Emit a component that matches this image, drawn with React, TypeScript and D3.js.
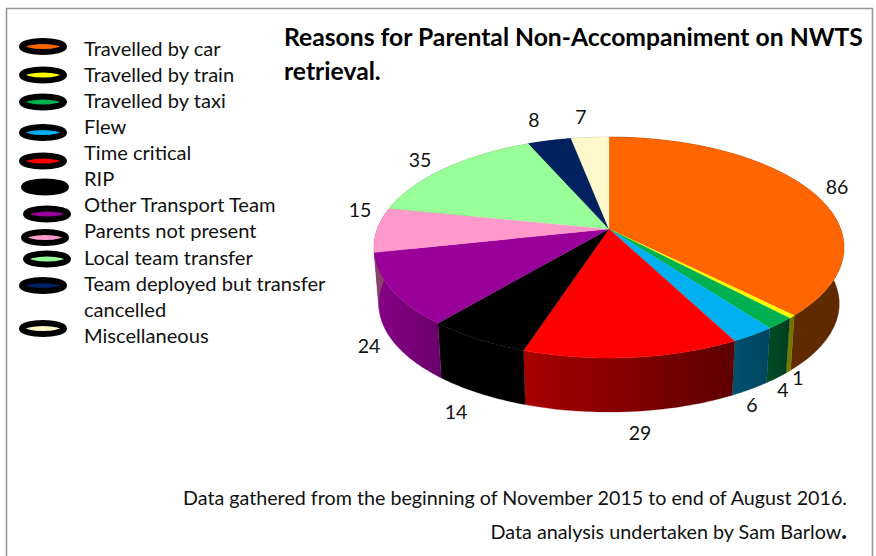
import React from "react";
import * as d3 from "d3";

const categories = ["Travelled by car","Travelled by train","Travelled by taxi","Flew","Time critical","RIP","Other Transport Team","Parents not present","Local team transfer","Team deployed but transfer cancelled","Miscellaneous"];
const values = [86,1,4,6,29,14,24,15,35,8,7];
const topColors = ["#ff6600","#ffff00","#00b050","#00b0f0","#ff0000","#000000","#990099","#ff99cc","#99ff99","#002060","#fff8cc"];
const wallLight = ["#6a2e00","#7a7a00","#004a24","#004f6c","#a80000","#000000","#880088","#884466","#558855","#001030","#888866"];
const wallDark = ["#602a00","#6a6a00","#003e1e","#004560","#5c0000","#000000","#6c006c","#884466","#558855","#001030","#888866"];

// Legend layout: swatch centre and text baseline lines
const swatchX = [43,43,43,43,43,45,47,45,47,43,43];
const swatchY = [46.5,75,102,132.5,161,187,214,237.5,259,285.5,328.5];
const legendLines = ["Travelled by car","Travelled by train","Travelled by taxi","Flew","Time critical","RIP","Other Transport Team","Parents not present","Local team transfer","Team deployed but transfer","cancelled","Miscellaneous"];
const legendBaselines = [56,82,108,134,160,186,212,238,265,291,317,343];

const labelX = [837,798,783,752,640,456,369,360,420,534,581];
const labelY = [194,385,397,412,440,419,353,217,167,127,124];

const cx = 609, cy = 229, R = 231.7, B = 107.4, persp = 0.1675;
const depth = 56.6, bottomScale = 0.98;

function project(theta: number, bottom: boolean): [number, number] {
  const u = Math.sin(theta), v = -Math.cos(theta);
  const s = 1 / (1 - persp * v);
  const k = bottom ? bottomScale : 1;
  return [cx + R * u * s * k, cy + B * v * s * k + (bottom ? depth : 0)];
}

const line = d3.line();

export default function App() {
  const arcs = d3.pie<number>().sort(null).startAngle(0).endAngle(2 * Math.PI)(values);
  const samples = (a: d3.PieArcDatum<number>) => d3.range(0, 41).map(i => a.startAngle + (a.endAngle - a.startAngle) * i / 40);
  const xOf = (a: d3.PieArcDatum<number>, e: number) => project(e, false)[0];

  return (
    <svg width={876} height={556} style={{ position: "absolute", left: 0, top: 0, background: "#fff" }}
      fontFamily="Lato, Carlito, sans-serif">
      <defs>
        {arcs.map((a, i) => (
          <linearGradient key={i} id={`wall${i}`} gradientUnits="userSpaceOnUse"
            x1={Math.min(xOf(a, a.startAngle), xOf(a, a.endAngle))} y1={0}
            x2={Math.max(xOf(a, a.startAngle), xOf(a, a.endAngle))} y2={0}>
            <stop offset="0" stopColor={wallLight[i]} />
            <stop offset="1" stopColor={wallDark[i]} />
          </linearGradient>
        ))}
        <filter id="soft" x="-10%" y="-30%" width="120%" height="160%"><feGaussianBlur stdDeviation="0.5" /></filter>
      </defs>

      <path d="M6.5 556V8.5H872.5V556" fill="none" stroke="#989898" strokeWidth={1.6} />

      {arcs.map((a, i) => {
        const ts = samples(a);
        const pts = [...ts.map(t => project(t, false)), ...ts.slice().reverse().map(t => project(t, true))];
        return <path key={i} d={line(pts as [number, number][]) + "Z"} fill={`url(#wall${i})`} stroke={`url(#wall${i})`} strokeWidth={0.3} />;
      })}
      {arcs.map((a, i) => {
        const ts = samples(a);
        const pts: [number, number][] = [[cx, cy], ...ts.map(t => project(t, false))];
        return <path key={i} d={line(pts) + "Z"} fill={topColors[i]} stroke={topColors[i]} strokeWidth={0.3} />;
      })}

      {values.map((v, i) => (
        <text key={i} x={labelX[i]} y={labelY[i]} textAnchor="middle" fontSize={19.5} fill="#111">{v}</text>
      ))}

      {categories.map((c, i) => (
        <g key={c} filter="url(#soft)">
          <ellipse cx={swatchX[i]} cy={swatchY[i]} rx={21} ry={5.5} fill={topColors[i]} stroke="#000" strokeWidth={6} />
        </g>
      ))}
      {legendLines.map((t, i) => (
        <text key={t} x={84} y={legendBaselines[i]} fontSize={20.1} fill="#111">{t}</text>
      ))}

      <text x={284} y={46} fontSize={24.7} fontWeight={700} fill="#000">Reasons for Parental Non-Accompaniment on NWTS</text>
      <text x={284} y={80} fontSize={24.7} fontWeight={700} fill="#000">retrieval.</text>

      <text x={847} y={505} textAnchor="end" fontSize={19.7} fill="#111">Data gathered from the beginning of November 2015 to end of August 2016.</text>
      <text x={847} y={539} textAnchor="end" fontSize={19.8} fill="#111">Data analysis undertaken by Sam Barlow<tspan fontWeight={900} fontSize={24}>.</tspan></text>
    </svg>
  );
}
